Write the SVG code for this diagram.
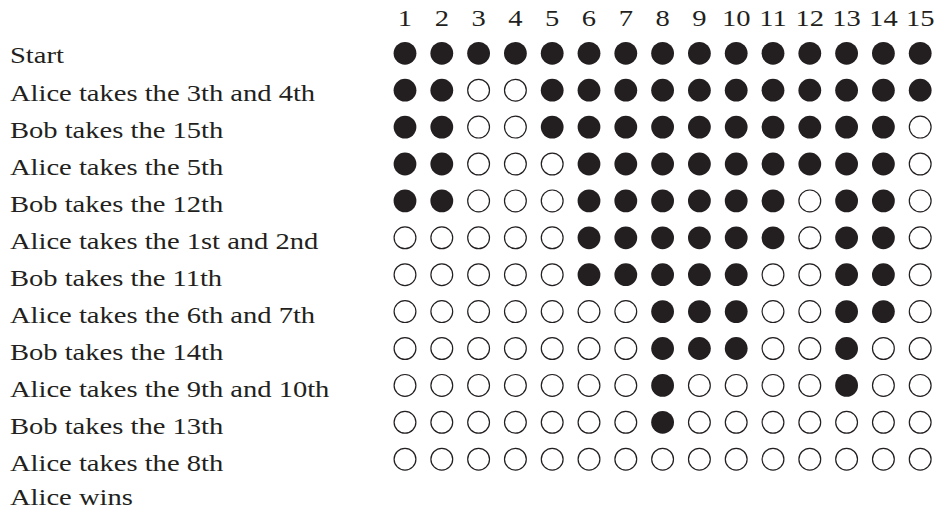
<svg xmlns="http://www.w3.org/2000/svg" xmlns:xlink="http://www.w3.org/1999/xlink" width="935" height="511" viewBox="0 0 935 511">
<style>
text{font-family:"Liberation Serif","Times New Roman",serif;font-size:24px;fill:#231f20}
.h{text-anchor:middle}
.f{fill:#231f20;stroke:none}
.e{fill:#fff;stroke:#231f20;stroke-width:1.2}
</style>
<defs>
<circle id="F" class="f" r="11.4"/>
<circle id="E" class="e" r="10.9"/>
</defs>
<rect width="935" height="511" fill="#fff"/>
<g id="header" transform="scale(1.19,1)">
<text class="h" x="340.34" y="26">1</text><text class="h" x="371.26" y="26">2</text><text class="h" x="402.18" y="26">3</text><text class="h" x="433.11" y="26">4</text><text class="h" x="464.03" y="26">5</text><text class="h" x="494.96" y="26">6</text><text class="h" x="525.88" y="26">7</text><text class="h" x="556.81" y="26">8</text><text class="h" x="587.73" y="26">9</text><text class="h" x="618.66" y="26">10</text><text class="h" x="649.58" y="26">11</text><text class="h" x="680.5" y="26">12</text><text class="h" x="711.43" y="26">13</text><text class="h" x="742.35" y="26">14</text><text class="h" x="773.28" y="26">15</text>
</g>
<g id="labels" transform="scale(1.19,1)">
<text x="8.4" y="63.5">Start</text>
<text x="8.4" y="100.55">Alice takes the 3th and 4th</text>
<text x="8.4" y="137.6">Bob takes the 15th</text>
<text x="8.4" y="174.65">Alice takes the 5th</text>
<text x="8.4" y="211.7">Bob takes the 12th</text>
<text x="8.4" y="248.75">Alice takes the 1st and 2nd</text>
<text x="8.4" y="285.8">Bob takes the 11th</text>
<text x="8.4" y="322.85">Alice takes the 6th and 7th</text>
<text x="8.4" y="359.9">Bob takes the 14th</text>
<text x="8.4" y="396.95">Alice takes the 9th and 10th</text>
<text x="8.4" y="434">Bob takes the 13th</text>
<text x="8.4" y="471.05">Alice takes the 8th</text>
<text x="8.4" y="505">Alice wins</text>
</g>
<g id="row1" transform="translate(0,53.3)">
<use href="#F" x="405"/><use href="#F" x="441.8"/><use href="#F" x="478.6"/><use href="#F" x="515.4"/><use href="#F" x="552.2"/><use href="#F" x="589"/><use href="#F" x="625.8"/><use href="#F" x="662.6"/><use href="#F" x="699.4"/><use href="#F" x="736.2"/><use href="#F" x="773"/><use href="#F" x="809.8"/><use href="#F" x="846.6"/><use href="#F" x="883.4"/><use href="#F" x="920.2"/>
</g>
<g id="row2" transform="translate(0,90.2)">
<use href="#F" x="405"/><use href="#F" x="441.8"/><use href="#E" x="478.6"/><use href="#E" x="515.4"/><use href="#F" x="552.2"/><use href="#F" x="589"/><use href="#F" x="625.8"/><use href="#F" x="662.6"/><use href="#F" x="699.4"/><use href="#F" x="736.2"/><use href="#F" x="773"/><use href="#F" x="809.8"/><use href="#F" x="846.6"/><use href="#F" x="883.4"/><use href="#F" x="920.2"/>
</g>
<g id="row3" transform="translate(0,127.1)">
<use href="#F" x="405"/><use href="#F" x="441.8"/><use href="#E" x="478.6"/><use href="#E" x="515.4"/><use href="#F" x="552.2"/><use href="#F" x="589"/><use href="#F" x="625.8"/><use href="#F" x="662.6"/><use href="#F" x="699.4"/><use href="#F" x="736.2"/><use href="#F" x="773"/><use href="#F" x="809.8"/><use href="#F" x="846.6"/><use href="#F" x="883.4"/><use href="#E" x="920.2"/>
</g>
<g id="row4" transform="translate(0,164)">
<use href="#F" x="405"/><use href="#F" x="441.8"/><use href="#E" x="478.6"/><use href="#E" x="515.4"/><use href="#E" x="552.2"/><use href="#F" x="589"/><use href="#F" x="625.8"/><use href="#F" x="662.6"/><use href="#F" x="699.4"/><use href="#F" x="736.2"/><use href="#F" x="773"/><use href="#F" x="809.8"/><use href="#F" x="846.6"/><use href="#F" x="883.4"/><use href="#E" x="920.2"/>
</g>
<g id="row5" transform="translate(0,200.9)">
<use href="#F" x="405"/><use href="#F" x="441.8"/><use href="#E" x="478.6"/><use href="#E" x="515.4"/><use href="#E" x="552.2"/><use href="#F" x="589"/><use href="#F" x="625.8"/><use href="#F" x="662.6"/><use href="#F" x="699.4"/><use href="#F" x="736.2"/><use href="#F" x="773"/><use href="#E" x="809.8"/><use href="#F" x="846.6"/><use href="#F" x="883.4"/><use href="#E" x="920.2"/>
</g>
<g id="row6" transform="translate(0,237.8)">
<use href="#E" x="405"/><use href="#E" x="441.8"/><use href="#E" x="478.6"/><use href="#E" x="515.4"/><use href="#E" x="552.2"/><use href="#F" x="589"/><use href="#F" x="625.8"/><use href="#F" x="662.6"/><use href="#F" x="699.4"/><use href="#F" x="736.2"/><use href="#F" x="773"/><use href="#E" x="809.8"/><use href="#F" x="846.6"/><use href="#F" x="883.4"/><use href="#E" x="920.2"/>
</g>
<g id="row7" transform="translate(0,274.7)">
<use href="#E" x="405"/><use href="#E" x="441.8"/><use href="#E" x="478.6"/><use href="#E" x="515.4"/><use href="#E" x="552.2"/><use href="#F" x="589"/><use href="#F" x="625.8"/><use href="#F" x="662.6"/><use href="#F" x="699.4"/><use href="#F" x="736.2"/><use href="#E" x="773"/><use href="#E" x="809.8"/><use href="#F" x="846.6"/><use href="#F" x="883.4"/><use href="#E" x="920.2"/>
</g>
<g id="row8" transform="translate(0,311.6)">
<use href="#E" x="405"/><use href="#E" x="441.8"/><use href="#E" x="478.6"/><use href="#E" x="515.4"/><use href="#E" x="552.2"/><use href="#E" x="589"/><use href="#E" x="625.8"/><use href="#F" x="662.6"/><use href="#F" x="699.4"/><use href="#F" x="736.2"/><use href="#E" x="773"/><use href="#E" x="809.8"/><use href="#F" x="846.6"/><use href="#F" x="883.4"/><use href="#E" x="920.2"/>
</g>
<g id="row9" transform="translate(0,348.5)">
<use href="#E" x="405"/><use href="#E" x="441.8"/><use href="#E" x="478.6"/><use href="#E" x="515.4"/><use href="#E" x="552.2"/><use href="#E" x="589"/><use href="#E" x="625.8"/><use href="#F" x="662.6"/><use href="#F" x="699.4"/><use href="#F" x="736.2"/><use href="#E" x="773"/><use href="#E" x="809.8"/><use href="#F" x="846.6"/><use href="#E" x="883.4"/><use href="#E" x="920.2"/>
</g>
<g id="row10" transform="translate(0,385.4)">
<use href="#E" x="405"/><use href="#E" x="441.8"/><use href="#E" x="478.6"/><use href="#E" x="515.4"/><use href="#E" x="552.2"/><use href="#E" x="589"/><use href="#E" x="625.8"/><use href="#F" x="662.6"/><use href="#E" x="699.4"/><use href="#E" x="736.2"/><use href="#E" x="773"/><use href="#E" x="809.8"/><use href="#F" x="846.6"/><use href="#E" x="883.4"/><use href="#E" x="920.2"/>
</g>
<g id="row11" transform="translate(0,422.3)">
<use href="#E" x="405"/><use href="#E" x="441.8"/><use href="#E" x="478.6"/><use href="#E" x="515.4"/><use href="#E" x="552.2"/><use href="#E" x="589"/><use href="#E" x="625.8"/><use href="#F" x="662.6"/><use href="#E" x="699.4"/><use href="#E" x="736.2"/><use href="#E" x="773"/><use href="#E" x="809.8"/><use href="#E" x="846.6"/><use href="#E" x="883.4"/><use href="#E" x="920.2"/>
</g>
<g id="row12" transform="translate(0,459.2)">
<use href="#E" x="405"/><use href="#E" x="441.8"/><use href="#E" x="478.6"/><use href="#E" x="515.4"/><use href="#E" x="552.2"/><use href="#E" x="589"/><use href="#E" x="625.8"/><use href="#E" x="662.6"/><use href="#E" x="699.4"/><use href="#E" x="736.2"/><use href="#E" x="773"/><use href="#E" x="809.8"/><use href="#E" x="846.6"/><use href="#E" x="883.4"/><use href="#E" x="920.2"/>
</g>
</svg>
